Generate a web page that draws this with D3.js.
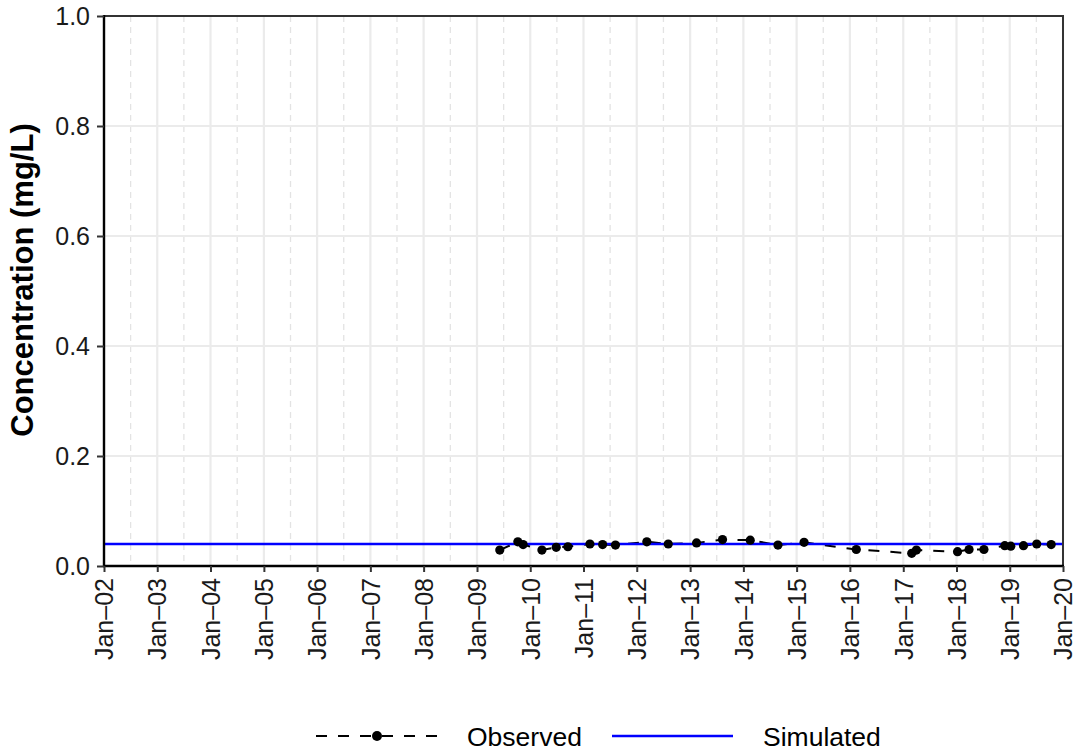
<!DOCTYPE html>
<html><head><meta charset="utf-8">
<script src="https://cdn.jsdelivr.net/npm/d3@7"></script>
<style>body{margin:0;background:#fff;} text{font-family:"Liberation Sans",Arial,sans-serif;}</style>
</head><body><svg id="c" width="1081" height="753"></svg>
<script>
const obsDates = ["2009-06-06","2009-10-08","2009-11-13","2010-03-22","2010-06-28","2010-09-16","2011-02-14","2011-05-12","2011-08-08","2012-03-10","2012-08-04","2013-02-14","2013-08-11","2014-02-17","2014-08-26","2015-02-21","2016-02-14","2017-02-28","2017-04-01","2018-01-08","2018-03-28","2018-07-08","2018-11-28","2019-01-08","2019-04-05","2019-07-05","2019-10-12"];
const obsValues = [0.029,0.044,0.039,0.029,0.034,0.035,0.040,0.039,0.038,0.044,0.040,0.042,0.048,0.047,0.038,0.043,0.030,0.023,0.029,0.026,0.030,0.030,0.037,0.036,0.037,0.040,0.039];
const simDates = ["2002-01-01","2020-01-01"];
const simValues = [0.040,0.040];
const yTicks = [0,0.2,0.4,0.6,0.8,1.0];
const xTickYears = d3.range(2002,2021);
const seriesNames = ["Observed","Simulated"];

const parse = d3.utcParse("%Y-%m-%d");
const svg = d3.select("#c");
const L=104,R=1063,T=16,B=566;
const x = d3.scaleUtc().domain([parse("2002-01-01"),parse("2020-01-01")]).range([L,R]);
const y = d3.scaleLinear().domain([0,1]).range([B,T]);
const xTicks = xTickYears.map(yr=>new Date(Date.UTC(yr,0,1)));
const minor = xTicks.slice(0,-1).map((d,i)=>new Date((+d + +xTicks[i+1])/2));

const g = svg.append("g");
g.selectAll(".mn").data(minor).join("line").attr("x1",d=>x(d)).attr("x2",d=>x(d)).attr("y1",T).attr("y2",B)
 .attr("stroke","#e3e3e3").attr("stroke-width",1.3).attr("stroke-dasharray","6,5");
g.selectAll(".mj").data(xTicks).join("line").attr("x1",d=>x(d)).attr("x2",d=>x(d)).attr("y1",T).attr("y2",B)
 .attr("stroke","#ebebeb").attr("stroke-width",2.2);
g.selectAll(".hy").data(yTicks).join("line").attr("x1",L).attr("x2",R).attr("y1",d=>y(d)).attr("y2",d=>y(d))
 .attr("stroke","#ebebeb").attr("stroke-width",2.2);

const sim = simDates.map((d,i)=>({d:parse(d),v:simValues[i]}));
const obs = obsDates.map((d,i)=>({d:parse(d),v:obsValues[i]}));
const line = d3.line().x(p=>x(p.d)).y(p=>y(p.v));
svg.append("path").datum(obs).attr("d",line).attr("fill","none").attr("stroke","#000").attr("stroke-width",2).attr("stroke-dasharray","11,11");
svg.append("path").datum(sim).attr("d",line).attr("fill","none").attr("stroke","#0000ff").attr("stroke-width",2.6);
svg.selectAll(".pt").data(obs).join("circle").attr("cx",p=>x(p.d)).attr("cy",p=>y(p.v)).attr("r",4.6).attr("fill","#000");

svg.append("rect").attr("x",L).attr("y",T).attr("width",R-L).attr("height",B-T).attr("fill","none").attr("stroke","#333").attr("stroke-width",2);
svg.append("line").attr("x1",L).attr("x2",L).attr("y1",T-1).attr("y2",B+1).attr("stroke","#000").attr("stroke-width",2.4);
svg.append("line").attr("x1",L-1).attr("x2",R+1).attr("y1",B).attr("y2",B).attr("stroke","#000").attr("stroke-width",2.4);

const yAxis = svg.append("g").attr("transform",`translate(${L},0)`)
 .call(d3.axisLeft(y).tickValues(yTicks).tickFormat(d3.format(".1f")).tickSize(7).tickPadding(7));
yAxis.select(".domain").remove();
yAxis.selectAll("line").attr("stroke","#333").attr("stroke-width",2);
yAxis.selectAll("text").attr("font-size",25).attr("fill","#1a1a1a").attr("font-family","Liberation Sans, Arial, sans-serif");

const fmt = d=>"Jan\u2013"+d3.utcFormat("%y")(d);
const xAxis = svg.append("g").attr("transform",`translate(0,${B})`)
 .call(d3.axisBottom(x).tickValues(xTicks).tickFormat(fmt).tickSize(6).tickPadding(6));
xAxis.select(".domain").remove();
xAxis.selectAll("line").attr("stroke","#333").attr("stroke-width",2);
xAxis.selectAll("text").attr("font-size",25).attr("fill","#1a1a1a").attr("font-family","Liberation Sans, Arial, sans-serif")
 .attr("transform","rotate(-90)").attr("text-anchor","end").attr("dy","0.35em").attr("x",-12).attr("y",0);

svg.append("text").attr("transform",`translate(33,280) rotate(-90)`).attr("text-anchor","middle")
 .attr("font-size",31).attr("font-weight","bold").attr("fill","#000").text("Concentration (mg/L)");

const ly = 736;
const lg = svg.append("g");
lg.append("line").attr("x1",316).attr("x2",437).attr("y1",ly).attr("y2",ly).attr("stroke","#000").attr("stroke-width",2).attr("stroke-dasharray","11,11");
lg.append("circle").attr("cx",377).attr("cy",ly).attr("r",5).attr("fill","#000");
lg.append("text").attr("x",467).attr("y",ly).attr("dy","0.36em").attr("font-size",26.5).attr("fill","#000").text(seriesNames[0]);
lg.append("line").attr("x1",612).attr("x2",733).attr("y1",ly).attr("y2",ly).attr("stroke","#0000ff").attr("stroke-width",2.6);
lg.append("text").attr("x",763).attr("y",ly).attr("dy","0.36em").attr("font-size",26.5).attr("fill","#000").text(seriesNames[1]);
</script></body></html>
